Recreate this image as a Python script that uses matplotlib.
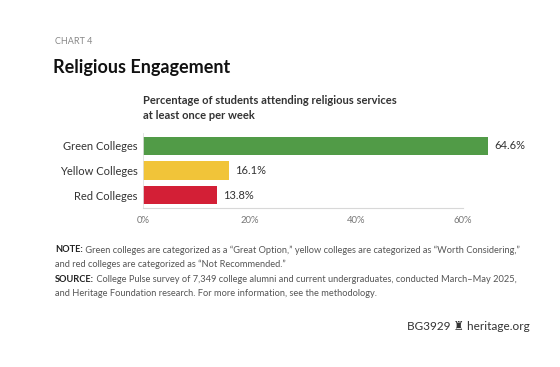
import matplotlib.pyplot as plt

categories = ['Green Colleges', 'Yellow Colleges', 'Red Colleges']
values = [64.6, 16.1, 13.8]
colors = ['#519b47', '#f1c439', '#d31f36']
ticks = [0, 20, 40, 60]

plt.rcParams['font.family'] = ['Lato', 'DejaVu Sans']

fig = plt.figure(figsize=(5.6, 3.67), dpi=100)
ax = fig.add_axes([143 / 560, 159 / 367, 400 / 560, 75 / 367])

ax.barh(categories, values, color=colors, height=0.74)
for i, v in enumerate(values):
    ax.text(v + 1.2, i, f'{v}%', va='center', ha='left', fontsize=8, color='#333333')

ax.set_xlim(0, 75)
ax.set_ylim(2.53, -0.53)
ax.set_xticks(ticks)
ax.set_xticklabels([f'{t}%' for t in ticks], fontsize=6.8, color='#777777')
ax.tick_params(axis='x', length=0, pad=6)
ax.tick_params(axis='y', length=0, pad=4, labelsize=8, labelcolor='#333333')
for s in ['top', 'right']:
    ax.spines[s].set_visible(False)
ax.spines['bottom'].set_bounds(0, 60)
ax.spines['bottom'].set_color('#d8d8d8')
ax.spines['left'].set_color('#e0e0e0')
ax.spines['left'].set_linewidth(0.6)

fig.text(55 / 560, 1 - 42 / 367, 'CHART 4', fontsize=6.5, color='#888888', va='center')
fig.text(53 / 560, 1 - 67 / 367, 'Religious Engagement', fontsize=13,
         fontweight='bold', color='#111111', va='center')
fig.text(143 / 560, 1 - 108 / 367,
         'Percentage of students attending religious services\nat least once per week',
         fontsize=8, fontweight='bold', color='#333333', va='center', linespacing=1.35)

lines = [
    ('NOTE:', ' Green colleges are categorized as a \u201cGreat Option,\u201d yellow colleges are categorized as \u201cWorth Considering,\u201d'),
    ('', 'and red colleges are categorized as \u201cNot Recommended.\u201d'),
    ('SOURCE:', ' College Pulse survey of 7,349 college alumni and current undergraduates, conducted March\u2013May 2025,'),
    ('', 'and Heritage Foundation research. For more information, see the methodology.'),
]

# fit the note text so the first line spans roughly 55..523 px
renderer = fig.canvas.get_renderer()
probe_h = fig.text(0, 0, lines[0][0], fontsize=10, fontweight='bold')
probe_b = fig.text(0, 0, lines[0][1], fontsize=10)
w = probe_h.get_window_extent(renderer).width + probe_b.get_window_extent(renderer).width
probe_h.remove()
probe_b.remove()
note_size = 10 * 468 / w

y = 250
for head, body in lines:
    x0 = 55 / 560
    if head:
        t = fig.text(x0, 1 - y / 367, head, fontsize=note_size, fontweight='bold',
                     color='#222222', va='center')
        x0 = t.get_window_extent(renderer).x1 / 560
    fig.text(x0, 1 - y / 367, body, fontsize=note_size, color='#555555', va='center')
    y += 14.5

fig.text(530 / 560, 1 - 327 / 367, 'BG3929 \u265c heritage.org', fontsize=8.5,
         color='#333333', va='center', ha='right')

fig.savefig('out.png', dpi=100)
